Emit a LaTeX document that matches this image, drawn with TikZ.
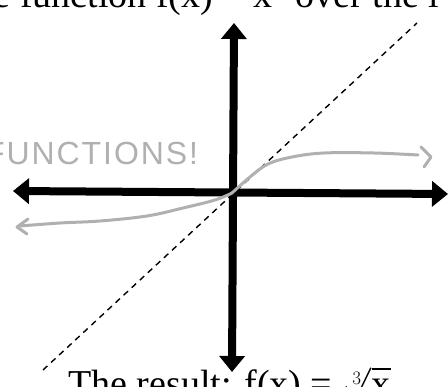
\RequirePackage{fix-cm}
\documentclass[tikz,border=0pt]{standalone}
\usepackage{fontspec}
\setmainfont{Liberation Serif}
\newfontfamily\handfont[LetterSpace=6]{Liberation Sans}
\usetikzlibrary{arrows.meta}
\begin{document}
\begin{tikzpicture}[x=1pt,y=-1pt,
  axis/.style={line width=8pt, {Triangle[width=25pt,length=16pt]}-{Triangle[width=25pt,length=16pt]}},
  curve/.style={gray!62, line width=3pt, line cap=round, line join=round},
  diag/.style={black, line width=1.4pt, dash pattern=on 6pt off 5pt},
  bigtext/.style={inner sep=0pt, font=\fontsize{38}{40}\selectfont},
  hand/.style={inner sep=0pt, text=gray!62, font=\handfont\fontsize{32}{32}\selectfont}]
\useasboundingbox (0,0) rectangle (448,387);
\clip (0,0) rectangle (448,387);
% texts
\node[bigtext, anchor=base west] (top) at (-6.5,8) {e function f(x) = x\textsuperscript{3} over the l};
\node[bigtext, anchor=base west] (res) at (68,397) {The result: f(x) = $\sqrt[3]{\mbox{x}}$};
\node[hand, anchor=base west] (fun) at (-15,165) {FUNCTIONS!};
% axes
\coordinate (xl) at (13,191);
\coordinate (xr) at (448,194);
\coordinate (yt) at (234,23);
\coordinate (yb) at (232,372);
\draw[axis] (xl) -- (xr);
\draw[axis] (yb) -- (yt);
% dashed diagonal
\coordinate (dl) at (43,370);
\coordinate (dr) at (417,23);
\draw[diag] (dl) -- (dr);
% gray curve
\draw[curve] plot[smooth, tension=0.6] coordinates {(232,193) (250,177) (268,164) (292,157) (324,153) (374,153) (418,155)};
\draw[curve] (421,147) -- (431,157) -- (424,167);
\draw[curve] plot[smooth, tension=0.6] coordinates {(232,193) (215,200) (183,208) (147,216) (100,221) (60,223) (20,226)};
\draw[curve] (28,219) -- (17,227) -- (27,234);
\end{tikzpicture}
\end{document}
